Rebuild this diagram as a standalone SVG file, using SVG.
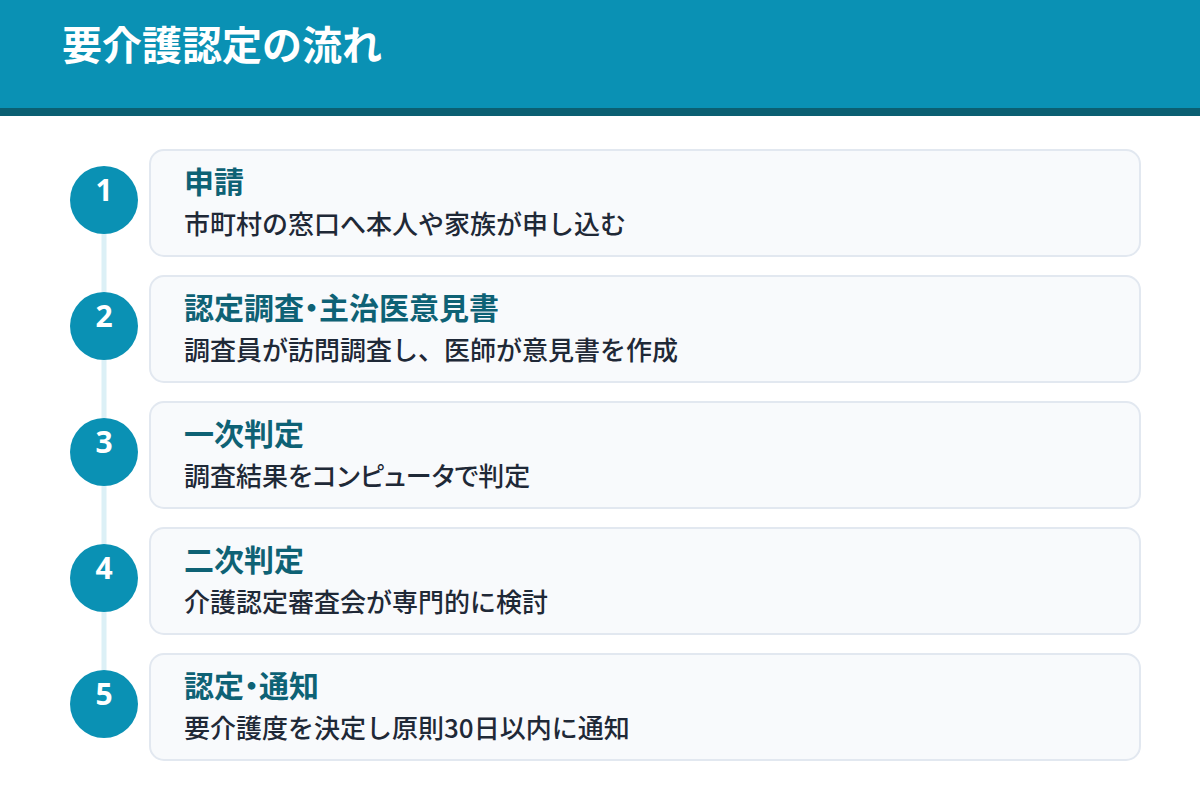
<svg xmlns="http://www.w3.org/2000/svg" width="1200" height="800" viewBox="0 0 1200 800">
<style>
.t{font-family:"Noto Sans CJK JP","Noto Sans",sans-serif;}
.h{font-size:40px;font-weight:700;fill:#ffffff;}
.card{fill:#f8fafc;stroke:#e2e8f0;stroke-width:2;}
.num{fill:#0a91b4;}
.n{font-family:"Noto Sans",sans-serif;font-size:30px;font-weight:700;fill:#ffffff;text-anchor:middle;}
.ct{font-size:30px;font-weight:700;fill:#0e6275;}
.cd{font-size:26px;font-weight:500;fill:#1f2937;}
.p{font-feature-settings:"palt" 1;}
</style>
<rect x="0" y="0" width="1200" height="800" fill="#ffffff"/>
<rect x="0" y="0" width="1200" height="108" fill="#0a91b4"/>
<rect x="0" y="108" width="1200" height="8" fill="#0b5f72"/>
<text class="t h" x="62" y="60">要介護認定の流れ</text>
<g id="connectors">
<rect x="101.5" y="200" width="5" height="505" fill="#dcf0f6"/>
</g>
<g id="step1">
<rect class="card" x="150" y="150" width="990" height="106" rx="14"/>
<circle class="num" cx="104" cy="200" r="34"/>
<text class="n" x="104" y="201">1</text>
<text class="t ct" x="184" y="193">申請</text>
<text class="t cd" x="184" y="234">市町村の窓口へ本人や家族が申し込む</text>
</g>
<g id="step2">
<rect class="card" x="150" y="276" width="990" height="106" rx="14"/>
<circle class="num" cx="104" cy="326" r="34"/>
<text class="n" x="104" y="327">2</text>
<text class="t ct" x="184" y="319">認定調査<tspan class="p">・</tspan>主治医意見書</text>
<text class="t cd" x="184" y="360">調査員が訪問調査し、医師が意見書を作成</text>
</g>
<g id="step3">
<rect class="card" x="150" y="402" width="990" height="106" rx="14"/>
<circle class="num" cx="104" cy="452" r="34"/>
<text class="n" x="104" y="453">3</text>
<text class="t ct" x="184" y="445">一次判定</text>
<text class="t cd" x="184" y="486">調査結果<tspan class="p">をコンピュータで</tspan>判定</text>
</g>
<g id="step4">
<rect class="card" x="150" y="528" width="990" height="106" rx="14"/>
<circle class="num" cx="104" cy="578" r="34"/>
<text class="n" x="104" y="579">4</text>
<text class="t ct" x="184" y="571">二次判定</text>
<text class="t cd" x="184" y="612">介護認定審査会が専門的に検討</text>
</g>
<g id="step5">
<rect class="card" x="150" y="654" width="990" height="106" rx="14"/>
<circle class="num" cx="104" cy="704" r="34"/>
<text class="n" x="104" y="705">5</text>
<text class="t ct" x="184" y="697">認定<tspan class="p">・</tspan>通知</text>
<text class="t cd" x="184" y="738">要介護度を決定し原則30日以内に通知</text>
</g>
</svg>
